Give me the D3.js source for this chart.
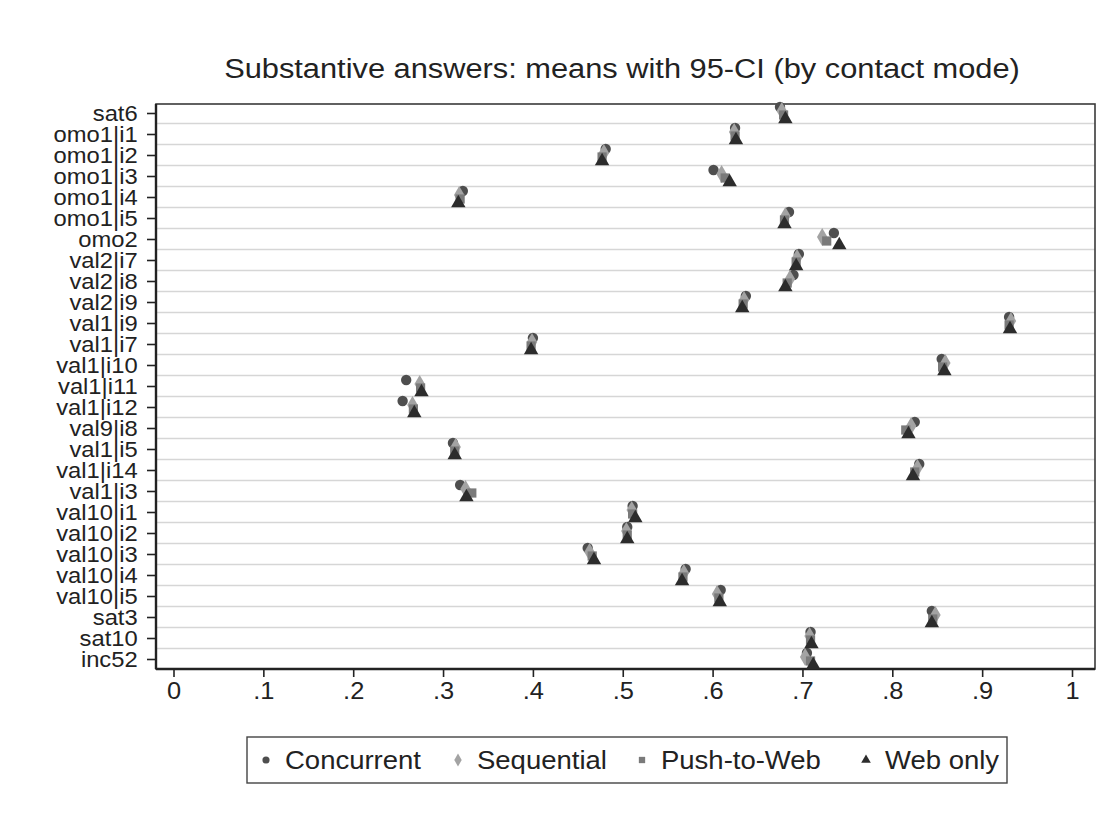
<!DOCTYPE html>
<html><head><meta charset="utf-8">
<script src="https://cdn.jsdelivr.net/npm/d3@7"></script>
<style>body{margin:0;background:#fff;} svg{display:block;font-family:"Liberation Sans",Arial,sans-serif;}</style>
</head><body>
<svg id="c" width="1117" height="822"></svg>
<script>
const categories = ["sat6","omo1|i1","omo1|i2","omo1|i3","omo1|i4","omo1|i5","omo2","val2|i7","val2|i8","val2|i9","val1|i9","val1|i7","val1|i10","val1|i11","val1|i12","val9|i8","val1|i5","val1|i14","val1|i3","val10|i1","val10|i2","val10|i3","val10|i4","val10|i5","sat3","sat10","inc52"];
const concurrent = [0.675,0.625,0.481,0.601,0.322,0.685,0.735,0.696,0.690,0.637,0.930,0.400,0.855,0.259,0.255,0.825,0.311,0.830,0.319,0.511,0.505,0.461,0.570,0.609,0.844,0.709,0.705];
const sequential = [0.677,0.624,0.479,0.610,0.318,0.681,0.722,0.694,0.686,0.635,0.932,0.399,0.859,0.274,0.266,0.821,0.314,0.828,0.325,0.510,0.504,0.463,0.568,0.605,0.848,0.708,0.703];
const pushToWeb  = [0.679,0.625,0.477,0.614,0.319,0.680,0.727,0.693,0.683,0.634,0.930,0.398,0.856,0.275,0.267,0.815,0.313,0.825,0.332,0.511,0.505,0.466,0.567,0.607,0.845,0.709,0.709];
const webOnly    = [0.681,0.626,0.477,0.619,0.317,0.680,0.741,0.693,0.681,0.633,0.931,0.398,0.858,0.276,0.268,0.818,0.313,0.823,0.326,0.514,0.505,0.468,0.566,0.608,0.844,0.710,0.712];
const seriesNames = ["Concurrent","Sequential","Push-to-Web","Web only"];
const xTicks = [0,0.1,0.2,0.3,0.4,0.5,0.6,0.7,0.8,0.9,1];
const xTickLabels = ["0",".1",".2",".3",".4",".5",".6",".7",".8",".9","1"];
const title = "Substantive answers: means with 95-CI (by contact mode)";

const svg = d3.select("#c");
const L = 156, R = 1095, T = 104, B = 669;
const x = d3.scaleLinear().domain([0,1]).range([173.5,1072]);
const y = d3.scalePoint().domain(categories).range([113,659]);
const step = y.step();

// gridlines between rows
const gridG = svg.append("g");
categories.slice(0,-1).forEach(c => {
  gridG.append("line").attr("x1",L).attr("x2",R)
    .attr("y1",y(c)+step/2).attr("y2",y(c)+step/2)
    .attr("stroke","#d6d6d6").attr("stroke-width",1.7);
});

// frame
svg.append("rect").attr("x",L).attr("y",T).attr("width",R-L).attr("height",B-T)
  .attr("fill","none").attr("stroke","#3a3a3a").attr("stroke-width",1.6);

// axes
const xAxis = d3.axisBottom(x).tickValues(xTicks).tickFormat((d,i)=>xTickLabels[i]).tickSize(8).tickPadding(5);
const gx = svg.append("g").attr("transform",`translate(0,${B})`).call(xAxis);
gx.select(".domain").attr("d",`M${L},0H${R}`).attr("stroke","#222").attr("stroke-width",2.4);
gx.selectAll(".tick line").attr("stroke","#222").attr("stroke-width",1.6);
gx.selectAll(".tick text").attr("font-size",24).attr("fill","#222")
  .attr("font-family","Liberation Sans, Arial, sans-serif").attr("transform","scale(1.06,1)");

const yAxis = d3.axisLeft(y).tickSize(9).tickPadding(8);
const gy = svg.append("g").attr("transform",`translate(${L},0)`).call(yAxis);
gy.select(".domain").attr("d",`M0,${T}V${B}`).attr("stroke","#222").attr("stroke-width",2.4);
gy.selectAll(".tick line").attr("stroke","#222").attr("stroke-width",1.6);
gy.selectAll(".tick text").attr("font-size",22).attr("fill","#222")
  .attr("font-family","Liberation Sans, Arial, sans-serif").attr("transform","scale(1.08,1)");

// markers
const styles = [
  {vals:concurrent, off:-6, sym:d3.symbolCircle, size:85, fill:"#4e4e4e"},
  {vals:sequential, off:-2, sym:d3.symbolDiamond, size:95, fill:"#a3a3a3"},
  {vals:pushToWeb,  off: 2, sym:d3.symbolSquare, size:85, fill:"#7a7a7a"},
  {vals:webOnly,    off: 6, sym:d3.symbolTriangle, size:90, fill:"#2c2c2c"}
];
const mg = svg.append("g");
styles.forEach(s => {
  mg.selectAll(null).data(s.vals).enter().append("path")
    .attr("d", d3.symbol().type(s.sym).size(s.size))
    .attr("transform",(d,i)=>`translate(${x(d)},${y(categories[i])+s.off})`)
    .attr("fill", s.fill);
});

// title
svg.append("text").attr("transform","translate(622,78) scale(1.1,1)").attr("text-anchor","middle")
  .attr("font-size",28).attr("fill","#222").text(title);

// legend
const lg = svg.append("g");
lg.append("rect").attr("x",247).attr("y",737).attr("width",760).attr("height",46)
  .attr("fill","#fff").attr("stroke","#444").attr("stroke-width",1.4);
const legPos = [266, 458, 642, 866];
styles.forEach((s,i) => {
  lg.append("path").attr("d", d3.symbol().type(s.sym).size(i===1?48:40))
    .attr("transform",`translate(${legPos[i]},${760})`).attr("fill",s.fill);
  lg.append("text").attr("transform",`translate(${legPos[i]+19},769) scale(1.1,1)`).attr("font-size",25)
    .attr("fill","#222").text(seriesNames[i]);
});
</script>
</body></html>
